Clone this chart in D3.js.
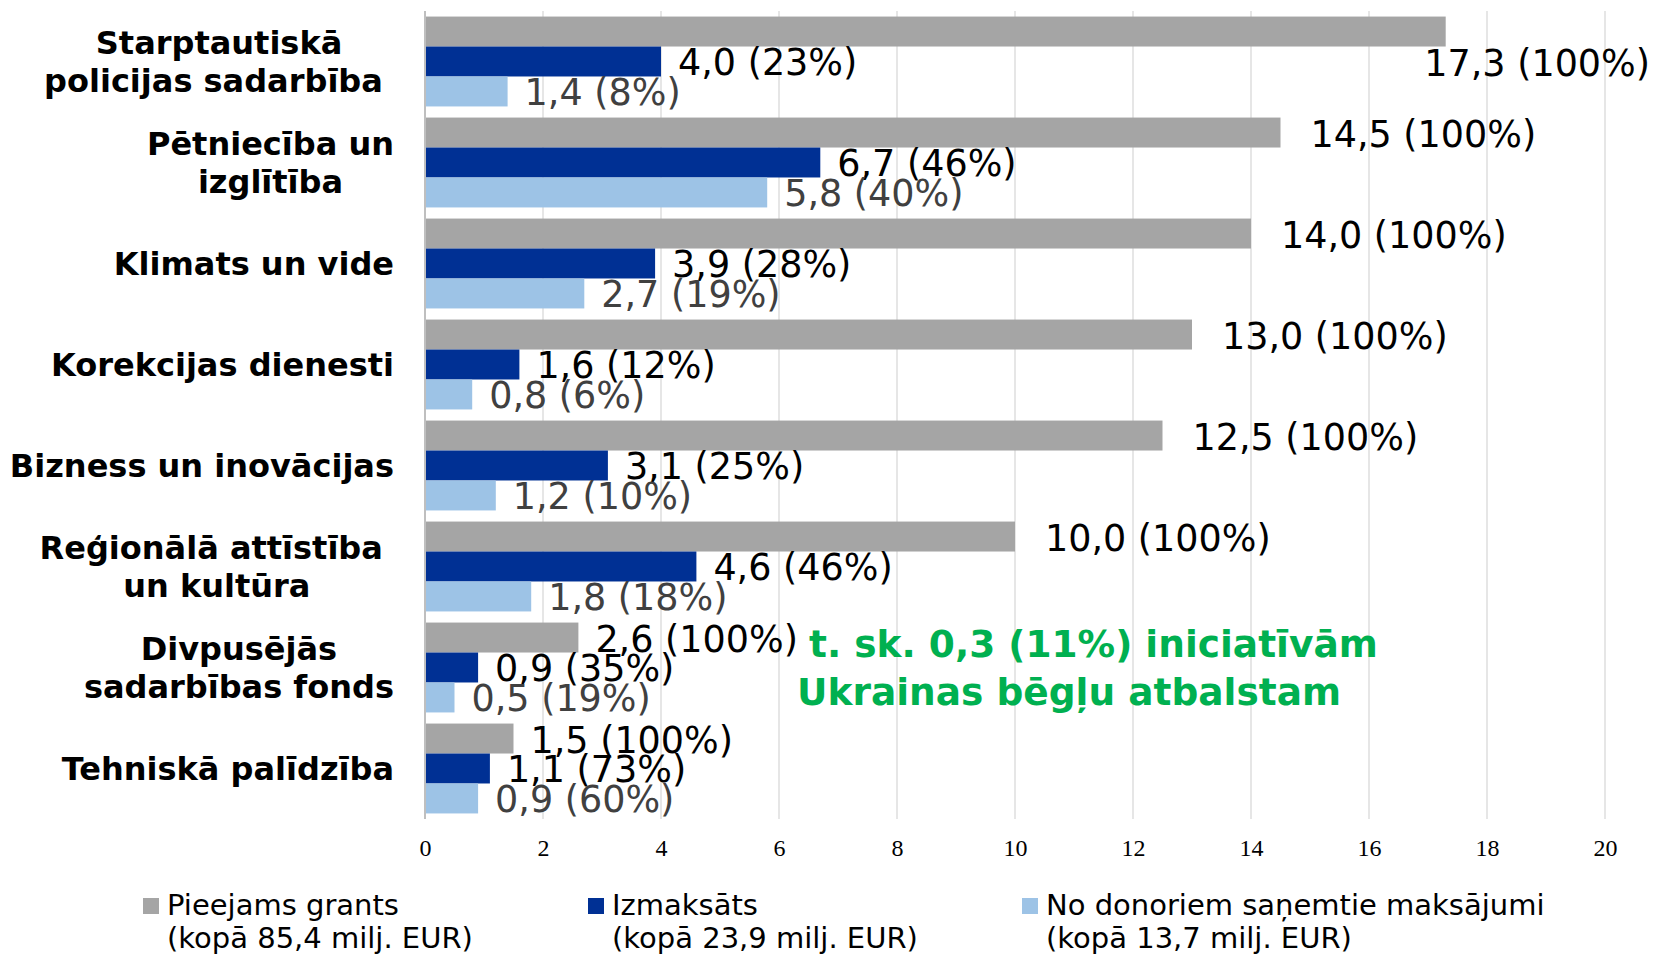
<!DOCTYPE html>
<html>
<head>
<meta charset="utf-8">
<script src="https://cdn.jsdelivr.net/npm/d3@7"></script>
<style>
  body { margin: 0; background: #fff; }
  svg { display: block; }
  .cat { white-space: pre; }
</style>
</head>
<body>
<div id="chart"></div>
<script>
// dati
const categories = [
  "Starptautiskā\npolicijas sadarbība ",
  "Pētniecība un\nizglītība",
  "Klimats un vide",
  "Korekcijas dienesti",
  "Bizness un inovācijas",
  "Reģionālā attīstība \nun kultūra",
  "Divpusējās\nsadarbības fonds",
  "Tehniskā palīdzība"
];
const seriesNames = ["Pieejams grants", "Izmaksāts", "No donoriem saņemtie maksājumi"];
const seriesTotals = ["(kopā 85,4 milj. EUR)", "(kopā 23,9 milj. EUR)", "(kopā 13,7 milj. EUR)"];
const grantValues = [17.3, 14.5, 14.0, 13.0, 12.5, 10.0, 2.6, 1.5];
const grantPct = [100, 100, 100, 100, 100, 100, 100, 100];
const paidValues = [4.0, 6.7, 3.9, 1.6, 3.1, 4.6, 0.9, 1.1];
const paidPct = [23, 46, 28, 12, 25, 46, 35, 73];
const receivedValues = [1.4, 5.8, 2.7, 0.8, 1.2, 1.8, 0.5, 0.9];
const receivedPct = [8, 40, 19, 6, 10, 18, 19, 60];
const xTicks = [0, 2, 4, 6, 8, 10, 12, 14, 16, 18, 20];
const noteLines = ["t. sk. 0,3 (11%) iniciatīvām", "Ukrainas bēgļu atbalstam"];

const W = 1655, H = 956;
const margin = {top: 11, left: 425, right: 50, bottom: 137};
const colors = ["#a5a5a5", "#003094", "#9dc3e6"];
const labelColors = ["#000", "#000", "#404040"];

const svg = d3.select("#chart").append("svg")
    .attr("width", W)
    .attr("height", H);

const x = d3.scaleLinear().domain([0, 20]).range([margin.left, W - margin.right]);
const y = d3.scaleBand().domain(d3.range(categories.length))
    .range([margin.top, H - margin.bottom])
    .paddingInner(0.11).paddingOuter(0.055);
const ySub = d3.scaleBand().domain([0, 1, 2]).range([0, y.bandwidth()]);

const plotBottom = H - margin.bottom;

// režģis
svg.append("g").selectAll("line").data(xTicks.slice(1)).join("line")
    .attr("x1", d => x(d)).attr("x2", d => x(d))
    .attr("y1", margin.top).attr("y2", plotBottom)
    .attr("stroke", "#d9d9d9").attr("stroke-width", 1.3);

// stabiņi
const rows = categories.map((c, i) => [
  {v: grantValues[i], p: grantPct[i]},
  {v: paidValues[i], p: paidPct[i]},
  {v: receivedValues[i], p: receivedPct[i]}
]);

const groups = svg.append("g").selectAll("g").data(rows).join("g")
    .attr("transform", (d, i) => `translate(0,${y(i)})`);

groups.selectAll("rect").data(d => d).join("rect")
    .attr("x", x(0))
    .attr("y", (d, j) => ySub(j))
    .attr("width", d => x(d.v) - x(0))
    .attr("height", ySub.bandwidth())
    .attr("fill", (d, j) => colors[j]);

// ass pie 0
svg.append("line")
    .attr("x1", x(0)).attr("x2", x(0))
    .attr("y1", margin.top).attr("y2", plotBottom)
    .attr("stroke", "#bfbfbf").attr("stroke-width", 2);

// datu etiķetes
const fmt = v => d3.format(".1f")(v).replace(".", ",");
const rightLimit = 1650;

groups.each(function(d) {
  const g = d3.select(this);
  d.forEach((s, j) => {
    const gap = (j === 0 && s.v >= 10) ? 30 : 17;
    const t = g.append("text")
        .attr("x", x(s.v) + gap)
        .attr("y", ySub(j) + ySub.bandwidth() / 2 + 14)
        .attr("font-family", "'DejaVu Sans', Verdana, sans-serif")
        .attr("font-size", 36.5)
        .attr("fill", labelColors[j])
        .text(`${fmt(s.v)} (${s.p}%)`);
    const w = t.node().getComputedTextLength();
    if (x(s.v) + gap + w > rightLimit) {
      // neietilpst - pārbīdām zem stabiņa
      t.attr("x", rightLimit - w)
       .attr("y", ySub(j) + ySub.bandwidth() * 1.5 + 15);
    }
  });
});

// kategoriju nosaukumi
const catRight = 394, lineH = 38;
categories.forEach((c, i) => {
  const lines = c.split("\n");
  const cy = y(i) + y.bandwidth() / 2;
  const g = svg.append("g");
  const texts = lines.map((l, k) => g.append("text")
      .attr("class", "cat")
      .attr("y", cy + (k - (lines.length - 1) / 2) * lineH + 11.5)
      .attr("text-anchor", "middle")
      .attr("font-family", "'DejaVu Sans', Verdana, sans-serif")
      .attr("font-weight", "bold")
      .attr("font-size", 32)
      .attr("fill", "#000")
      .text(l));
  const maxW = d3.max(texts, t => t.node().getComputedTextLength());
  texts.forEach(t => t.attr("x", catRight - maxW / 2));
});

// x ass
const xAxis = d3.axisBottom(x).tickValues(xTicks).tickSize(0).tickPadding(20);
const ax = svg.append("g")
    .attr("transform", `translate(0,${plotBottom})`)
    .call(xAxis);
ax.select(".domain").remove();
ax.selectAll("text")
    .attr("font-family", "'Liberation Serif', 'Times New Roman', serif")
    .attr("font-size", 24)
    .attr("fill", "#000");

// piezīme
const noteX = [809, 797];
noteLines.forEach((l, k) => {
  svg.append("text")
      .attr("x", noteX[k])
      .attr("y", 657 + k * 48)
      .attr("font-family", "'DejaVu Sans', Verdana, sans-serif")
      .attr("font-weight", "bold")
      .attr("font-size", 37.5)
      .attr("fill", "#00b050")
      .text(l);
});

// leģenda
const legendX = [143, 588, 1022];
seriesNames.forEach((n, j) => {
  const g = svg.append("g").attr("transform", `translate(${legendX[j]},0)`);
  g.append("rect")
      .attr("x", 0).attr("y", 898)
      .attr("width", 16).attr("height", 16)
      .attr("fill", colors[j]);
  g.append("text")
      .attr("x", 24).attr("y", 915)
      .attr("font-family", "'DejaVu Sans', Verdana, sans-serif")
      .attr("font-size", 29)
      .attr("fill", "#000")
      .text(n);
  g.append("text")
      .attr("x", 24).attr("y", 948)
      .attr("font-family", "'DejaVu Sans', Verdana, sans-serif")
      .attr("font-size", 29)
      .attr("fill", "#000")
      .text(seriesTotals[j]);
});
</script>
</body>
</html>
